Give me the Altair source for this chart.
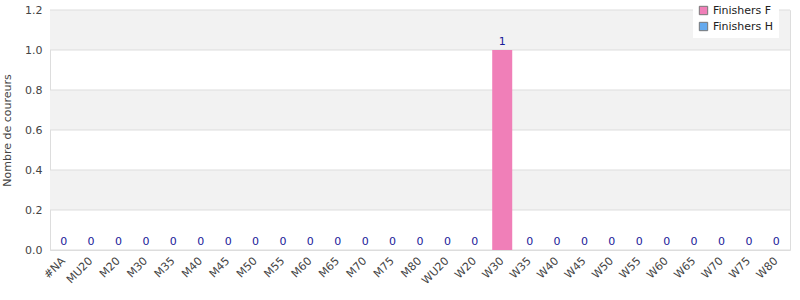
import altair as alt
import pandas as pd

categories = ["#NA", "MU20", "M20", "M30", "M35", "M40", "M45", "M50", "M55", "M60",
              "M65", "M70", "M75", "M80", "WU20", "W20", "W30", "W35", "W40", "W45",
              "W50", "W55", "W60", "W65", "W70", "W75", "W80"]
finishers_f = [0, 0, 0, 0, 0, 0, 0, 0, 0, 0, 0, 0, 0, 0, 0, 0, 1, 0, 0, 0, 0, 0, 0, 0, 0, 0, 0]
finishers_h = [0] * 27
series_names = ["Finishers F", "Finishers H"]
series_colors = ["#F07FB8", "#66AAEE"]
y_ticks = [0.0, 0.2, 0.4, 0.6, 0.8, 1.0, 1.2]

rows = []
for i, c in enumerate(categories):
    rows.append({"cat": c, "serie": series_names[0], "val": finishers_f[i], "order": 0})
    rows.append({"cat": c, "serie": series_names[1], "val": finishers_h[i], "order": 1})
df = pd.DataFrame(rows)
totals = pd.DataFrame({"cat": categories,
                       "total": [f + h for f, h in zip(finishers_f, finishers_h)]})
bands = pd.DataFrame({"y0": [y_ticks[1], y_ticks[3], y_ticks[5]],
                      "y1": [y_ticks[2], y_ticks[4], y_ticks[6]]})
grid = pd.DataFrame({"y": y_ticks})

FONT = "DejaVu Sans"
yscale = alt.Scale(domain=[0, 1.2], nice=False)
xscale = alt.Scale(domain=categories, paddingInner=0.27, paddingOuter=0.135)

y_axis = alt.Axis(title="Nombre de coureurs", values=y_ticks, format=".1f",
                  labelOverlap=False,
                  labelFont=FONT, labelFontSize=11, labelColor="#444",
                  titleFont=FONT, titleFontSize=11, titleColor="#444",
                  titleFontWeight="normal", titlePadding=12,
                  ticks=False, domain=False, grid=False, labelPadding=8)
x_axis = alt.Axis(title=None, labelAngle=-45, labelBaseline="middle", labelAlign="right",
                  labelFont=FONT, labelFontSize=11, labelColor="#444", labelOverlap=False,
                  ticks=False, domain=False, grid=False, labelPadding=9)

band_layer = alt.Chart(bands).mark_rect(color="#f2f2f2").encode(
    y=alt.Y("y0:Q", scale=yscale, axis=y_axis),
    y2="y1:Q",
    x=alt.value(0), x2=alt.value(740),
)

grid_layer = alt.Chart(grid).mark_rule(color="#dddddd", strokeWidth=1).encode(
    y=alt.Y("y:Q", scale=yscale, axis=y_axis),
    x=alt.value(0), x2=alt.value(740),
)

bars = alt.Chart(df).mark_bar().encode(
    x=alt.X("cat:N", scale=xscale, sort=categories, axis=x_axis),
    y=alt.Y("val:Q", scale=yscale, stack="zero", axis=y_axis),
    color=alt.Color("serie:N", scale=alt.Scale(domain=series_names, range=series_colors),
                    legend=alt.Legend(title=None, orient="none", legendX=643, legendY=-10,
                                      fillColor="white", padding=5, symbolType="square",
                                      symbolSize=70, symbolStrokeColor="#777",
                                      symbolStrokeWidth=1, labelFont=FONT, labelFontSize=11,
                                      labelColor="#222", rowPadding=3)),
    order=alt.Order("order:Q"),
)

labels = alt.Chart(totals).mark_text(font=FONT, fontSize=11, color="#1a1a99",
                                     baseline="bottom", dy=-3).encode(
    x=alt.X("cat:N", scale=xscale, sort=categories, axis=x_axis),
    y=alt.Y("total:Q", scale=yscale, axis=y_axis),
    text="total:Q",
)

chart = alt.layer(band_layer, grid_layer, bars, labels).properties(
    width=740, height=240,
    padding={"left": 50, "top": 10, "right": 10, "bottom": 50},
    autosize=alt.AutoSizeParams(type="none"),
).configure_view(stroke="#dddddd").configure(background="white")

chart.save("out.html", embed_options={"renderer": "svg", "actions": False})
